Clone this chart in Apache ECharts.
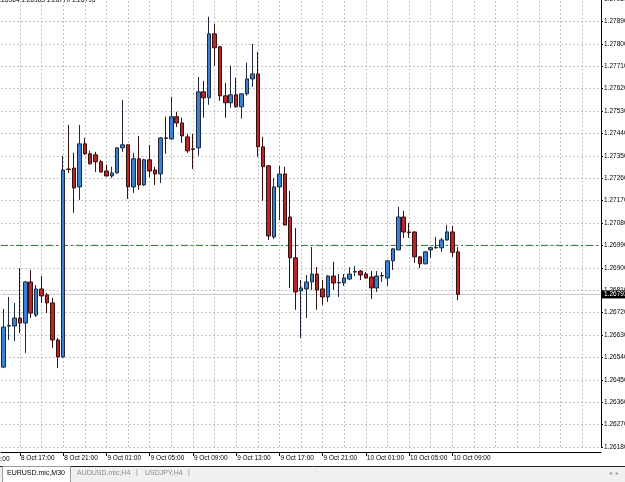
<!DOCTYPE html>
<html>
<head>
<meta charset="utf-8">
<style>
html, body { margin: 0; padding: 0; background: #fff; }
#chart { width: 625px; height: 482px; }
</style>
<script src="https://cdn.jsdelivr.net/npm/echarts@6/dist/echarts.min.js"></script>
</head>
<body>
<div id="chart"></div>
<script>
// EURUSD.mic, M30 - first bar 8 Oct 15:30
var firstDay = 8, firstHour = 15, firstMin = 30;
var emptyBars = 26; // chart shift on the right

var opens = [
  1.26501, 1.26666, 1.26666, 1.26698, 1.26678, 1.26843, 1.26710, 1.26815, 1.26791, 1.26759,
  1.26610, 1.26542, 1.27297, 1.27301, 1.27225, 1.27398, 1.27358, 1.27354, 1.27326, 1.27289,
  1.27269, 1.27281, 1.27382, 1.27394, 1.27225, 1.27338, 1.27233, 1.27334, 1.27293, 1.27277,
  1.27422, 1.27418, 1.27507, 1.27482, 1.27426, 1.27378, 1.27382, 1.27607, 1.27583, 1.27840,
  1.27788, 1.27591, 1.27563, 1.27595, 1.27547, 1.27599, 1.27659, 1.27679, 1.27386, 1.27310,
  1.27024, 1.27225, 1.27277, 1.27104, 1.26940, 1.26807, 1.26815, 1.26843, 1.26875, 1.26815,
  1.26783, 1.26867, 1.26839, 1.26839, 1.26855, 1.26883, 1.26887, 1.26875, 1.26863, 1.26819,
  1.26867, 1.26859, 1.26928, 1.26972, 1.27104, 1.27044, 1.27044, 1.26944, 1.26916, 1.26972,
  1.26980, 1.26980, 1.27012, 1.27044, 1.26964
];
var closes = [
  1.26662, 1.26668, 1.26698, 1.26678, 1.26843, 1.26718, 1.26815, 1.26787, 1.26759, 1.26610,
  1.26542, 1.27293, 1.27295, 1.27221, 1.27398, 1.27358, 1.27318, 1.27326, 1.27285, 1.27269,
  1.27281, 1.27382, 1.27394, 1.27225, 1.27338, 1.27233, 1.27334, 1.27289, 1.27277, 1.27422,
  1.27420, 1.27507, 1.27482, 1.27430, 1.27370, 1.27376, 1.27607, 1.27583, 1.27840, 1.27784,
  1.27591, 1.27563, 1.27595, 1.27547, 1.27599, 1.27659, 1.27679, 1.27386, 1.27306, 1.27028,
  1.27225, 1.27277, 1.27072, 1.26940, 1.26803, 1.26819, 1.26843, 1.26875, 1.26811, 1.26783,
  1.26867, 1.26839, 1.26841, 1.26859, 1.26875, 1.26885, 1.26871, 1.26859, 1.26819, 1.26867,
  1.26869, 1.26928, 1.26976, 1.27104, 1.27044, 1.27042, 1.26944, 1.26916, 1.26964, 1.26981,
  1.26982, 1.27012, 1.27044, 1.26962, 1.26793
];
var lows = [
  1.26497, 1.26610, 1.26606, 1.26638, 1.26558, 1.26698, 1.26702, 1.26759, 1.26718, 1.26578,
  1.26497, 1.26538, 1.27281, 1.27121, 1.27173, 1.27354, 1.27314, 1.27285, 1.27283, 1.27267,
  1.27261, 1.27279, 1.27366, 1.27177, 1.27201, 1.27213, 1.27229, 1.27265, 1.27233, 1.27241,
  1.27358, 1.27414, 1.27466, 1.27402, 1.27362, 1.27297, 1.27350, 1.27503, 1.27555, 1.27712,
  1.27571, 1.27503, 1.27543, 1.27543, 1.27499, 1.27591, 1.27627, 1.27346, 1.27169, 1.27012,
  1.27016, 1.27092, 1.27070, 1.26819, 1.26731, 1.26618, 1.26698, 1.26811, 1.26731, 1.26751,
  1.26763, 1.26811, 1.26783, 1.26827, 1.26851, 1.26867, 1.26851, 1.26857, 1.26775, 1.26803,
  1.26843, 1.26827, 1.26891, 1.26972, 1.27020, 1.27020, 1.26920, 1.26899, 1.26914, 1.26940,
  1.26978, 1.26964, 1.27008, 1.26944, 1.26770
];
var highs = [
  1.26735, 1.26783, 1.26759, 1.26899, 1.26847, 1.26891, 1.26831, 1.26867, 1.26799, 1.26779,
  1.26618, 1.27350, 1.27474, 1.27362, 1.27474, 1.27422, 1.27370, 1.27366, 1.27334, 1.27314,
  1.27306, 1.27384, 1.27575, 1.27396, 1.27362, 1.27430, 1.27338, 1.27394, 1.27306, 1.27426,
  1.27507, 1.27587, 1.27527, 1.27503, 1.27438, 1.27438, 1.27667, 1.27651, 1.27909, 1.27881,
  1.27792, 1.27643, 1.27712, 1.27663, 1.27601, 1.27724, 1.27800, 1.27768, 1.27426, 1.27312,
  1.27261, 1.27310, 1.27306, 1.27209, 1.27060, 1.26851, 1.26871, 1.26984, 1.26903, 1.26851,
  1.26871, 1.26924, 1.26875, 1.26875, 1.26903, 1.26907, 1.26891, 1.26883, 1.26887, 1.26887,
  1.26883, 1.26930, 1.26980, 1.27145, 1.27129, 1.27080, 1.27046, 1.26946, 1.26968, 1.26984,
  1.27024, 1.27020, 1.27072, 1.27068, 1.26983
];

var bidPrice = 1.26793;
var levelPrice = 1.26990;
var priceMin = 1.26180, priceMax = 1.27980, priceStep = 0.0009;
var tabs = ['EURUSD.mic,M30', 'AUDUSD.mic,H4', 'USDJPY,H4'];

function barTime(i) {
    var m = firstHour * 60 + firstMin + i * 30;
    var day = firstDay + Math.floor(m / 1440);
    m = ((m % 1440) + 1440) % 1440;
    var hh = Math.floor(m / 60), mm = m % 60;
    return day + ' Oct ' + (hh < 10 ? '0' : '') + hh + ':' + (mm < 10 ? '0' : '') + mm;
}

var times = [];
for (var i = 0; i < opens.length + emptyBars; i++) {
    times.push(barTime(i));
}
var candles = opens.map(function (o, i) {
    return [o, closes[i], lows[i], highs[i]];
});

// labels every 4 hours, grid every 2 hours
function isLabel(idx) { return idx % 8 === 3 && idx < opens.length; }
function isGrid(idx) { return idx % 4 === 3; }

var vGrid = [];
times.forEach(function (t, idx) {
    if (isGrid(idx)) vGrid.push({ xAxis: idx });
});

var axisFont = 'Liberation Sans';
var gridLine = { color: '#c4c4c4', width: 1, type: [2, 2] };

var chart = echarts.init(document.getElementById('chart'), null, { renderer: 'canvas' });
var last = opens.length - 1;
var header = [opens[last], highs[last], lows[last], closes[last]]
    .map(function (v) { return v.toFixed(5); }).join(' ');

var option = {
    backgroundColor: '#ffffff',
    animation: false,
    grid: { left: 1, right: 24, top: -1, bottom: 35, containLabel: false, outerBoundsMode: 'none' },
    xAxis: [{
        type: 'category',
        data: times,
        boundaryGap: true,
        offset: 5,
        axisLine: { show: true, onZero: false, lineStyle: { color: '#000', width: 1 } },
        axisTick: { show: true, interval: function (idx) { return isLabel(idx); }, alignWithLabel: true, length: 4, lineStyle: { color: '#000' } },
        axisLabel: {
            interval: function (idx) { return isLabel(idx); },
            align: 'left', margin: 3, fontSize: 6.5, color: '#000', fontFamily: axisFont,
            padding: [0, 0, 0, 1]
        },
        splitLine: { show: false }
    }, {
        // helper axis spanning the whole plot width for horizontal price lines
        type: 'value', min: 0, max: 1, show: false,
        axisLine: { show: false }, axisTick: { show: false }, axisLabel: { show: false },
        splitLine: { show: false }
    }],
    yAxis: {
        type: 'value',
        position: 'right',
        min: priceMin, max: priceMax, interval: priceStep,
        scale: true,
        axisLine: { show: true, onZero: false, lineStyle: { color: '#000', width: 1 } },
        axisTick: { show: true, length: 2, lineStyle: { color: '#000' } },
        axisLabel: {
            margin: 3, fontSize: 6.5, color: '#000', fontFamily: axisFont,
            formatter: function (v) { return v.toFixed(5); }
        },
        splitLine: { show: true, lineStyle: gridLine }
    },
    series: [{
        // vertical time grid, every 2 hours
        type: 'line',
        data: [],
        silent: true,
        z: 0,
        markLine: {
            silent: true,
            z: 0,
            symbol: ['none', 'none'],
            label: { show: false },
            lineStyle: gridLine,
            data: vGrid
        }
    }, {
        type: 'line',
        xAxisIndex: 1,
        data: [[0, levelPrice], [1, levelPrice]],
        symbol: 'none',
        silent: true,
        z: 1,
        lineStyle: { color: '#1f7a1f', width: 1, type: [7, 3, 2, 3] }
    }, {
        type: 'line',
        xAxisIndex: 1,
        data: [[0, bidPrice], [1, bidPrice]],
        symbol: 'none',
        silent: true,
        z: 1,
        lineStyle: { color: '#c8c8c8', width: 1, type: 'solid' },
        endLabel: {
            show: true, distance: 1,
            formatter: function () { return bidPrice.toFixed(5); },
            backgroundColor: '#000', color: '#fff',
            fontSize: 6.5, fontFamily: axisFont, padding: [1, 2, 0, 2]
        }
    }, {
        type: 'candlestick',
        data: candles,
        barWidth: 4,
        z: 3,
        itemStyle: {
            color: '#3a80d2', color0: '#b8262b',
            borderColor: '#1e2a3c', borderColor0: '#35100f', borderWidth: 1
        }
    }],
    graphic: [
        { type: 'text', left: -4, top: -3, style: { text: header, font: '6.5px "Liberation Sans"', fill: '#000' } },
        { type: 'text', left: -24, top: 456, style: { text: barTime(-5), font: '6.5px "Liberation Sans"', fill: '#000' } },
        { type: 'rect', shape: { x: 0, y: 467, width: 625, height: 15 }, style: { fill: '#f0f0f0' } },
        { type: 'line', shape: { x1: 0, y1: 466.5, x2: 625, y2: 466.5 }, style: { stroke: '#222', lineWidth: 1 } },
        { type: 'rect', shape: { x: 2.5, y: 466.5, width: 68, height: 16 }, style: { fill: '#fff', stroke: '#9a9a9a', lineWidth: 1 } },
        { type: 'text', left: 7, top: 470, style: { text: tabs[0], font: '7px "Liberation Sans"', fill: '#000' } },
        { type: 'text', left: 77, top: 470, style: { text: tabs[1], font: '7px "Liberation Sans"', fill: '#8a8a8a' } },
        { type: 'text', left: 136, top: 469, style: { text: '|', font: '7px "Liberation Sans"', fill: '#8a8a8a' } },
        { type: 'text', left: 145, top: 470, style: { text: tabs[2], font: '7px "Liberation Sans"', fill: '#8a8a8a' } },
        { type: 'text', left: 188, top: 469, style: { text: '|', font: '7px "Liberation Sans"', fill: '#8a8a8a' } },
        { type: 'text', left: 609, top: 470, style: { text: '\u25C2  \u25B8', font: '6px "DejaVu Sans"', fill: '#9a9a9a' } }
    ]
};
chart.setOption(option);
</script>
</body>
</html>
